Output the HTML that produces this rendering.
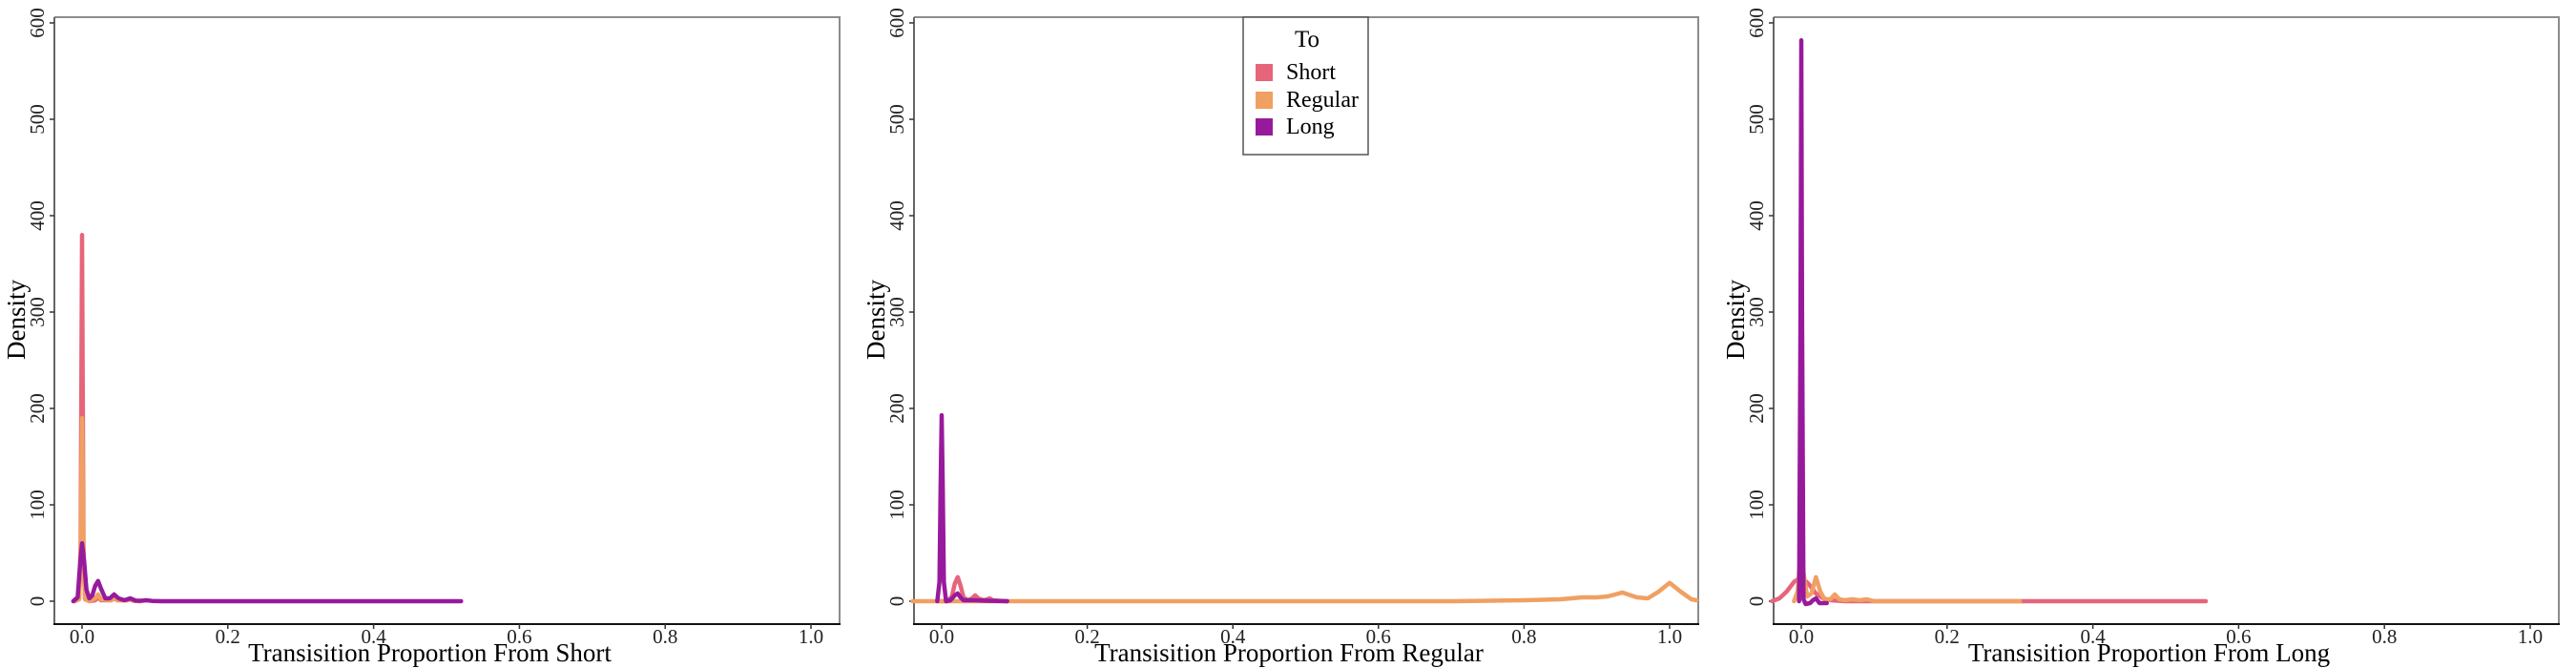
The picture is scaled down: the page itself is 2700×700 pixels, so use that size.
<!DOCTYPE html>
<html><head><meta charset="utf-8"><style>
html,body{margin:0;padding:0;background:#fff;}
svg{display:block;font-family:"Liberation Serif","Times New Roman",serif;}
</style></head><body>
<svg id="chart" width="2700" height="700" viewBox="0 0 2700 700"></svg>
<script>
// ---- data ----
const panelTitles = ["Transisition Proportion From Short","Transisition Proportion From Regular","Transisition Proportion From Long"];
const seriesNames = ["Short","Regular","Long"];
const seriesColors = ["#E6657A","#F0A062","#981A9C"];
const xTicks = [0,0.2,0.4,0.6,0.8,1.0];
const xTickLabels = ["0.0","0.2","0.4","0.6","0.8","1.0"];
const yTicks = [0,100,200,300,400,500,600];
const yTickLabels = ["0","100","200","300","400","500","600"];

// Panel 1 (From Short)
const p1ShortX = [-0.01,-0.004,-0.002,0,0.002,0.004,0.01,0.018,0.022,0.026,0.04,0.044,0.048,0.062,0.066,0.07,0.08];
const p1ShortY = [0,2,60,380,60,2,0,1,4,1,1,3,1,1,2,0.5,0];
const p1RegX = [-0.01,-0.004,-0.002,0,0.002,0.004,0.01,0.018,0.022,0.026,0.04,0.044,0.048,0.062,0.066,0.07,0.08];
const p1RegY = [0,2,40,190,40,2,0,3,7,2,1,4,1,1,3,0.5,0];
const p1LongX = [-0.012,-0.006,-0.003,0,0.003,0.006,0.01,0.014,0.018,0.022,0.026,0.032,0.038,0.044,0.05,0.058,0.066,0.074,0.082,0.088,0.096,0.11,0.3,0.52];
const p1LongY = [0,4,35,60,40,12,3,6,16,21,13,3,3,7,3,1,3,0.5,0.5,1,0.3,0,0,0];

// Panel 2 (From Regular)
const p2ShortX = [-0.004,0.008,0.014,0.018,0.022,0.026,0.03,0.036,0.042,0.046,0.05,0.058,0.062,0.066,0.07,0.078,0.09];
const p2ShortY = [0,0,5,18,25,16,4,1,3,6,3,1,2,3,1,0.5,0];
const p2RegX = [-0.04,0.1,0.3,0.5,0.7,0.8,0.85,0.88,0.9,0.915,0.935,0.955,0.97,0.985,1.0,1.015,1.03,1.037];
const p2RegY = [0,0,0,0,0,1,2,4,4,5,9,4,3,10,19,10,2,1];
const p2LongX = [-0.006,-0.003,-0.0015,0,0.0015,0.003,0.006,0.012,0.018,0.022,0.026,0.03,0.045,0.06,0.09];
const p2LongY = [0,20,120,193,120,20,0,1,6,8,4,1,1,0.5,0];

// Panel 3 (From Long)
const p3ShortX = [-0.04,-0.03,-0.02,-0.01,0,0.01,0.02,0.03,0.04,0.06,0.2,0.4,0.555];
const p3ShortY = [0,3,10,20,25,18,8,3,1,0,0,0,0];
const p3RegX = [-0.01,-0.005,-0.002,0,0.003,0.008,0.014,0.02,0.026,0.032,0.04,0.046,0.052,0.06,0.07,0.08,0.09,0.1,0.3];
const p3RegY = [0,10,40,55,30,5,8,25,10,2,2,7,2,1,2,1,2,0,0];
const p3LongX = [-0.003,-0.001,0,0.001,0.003,0.006,0.012,0.016,0.02,0.025,0.035];
const p3LongY = [0,300,582,300,2,-3,-2,1,3,-2,-2];

const panelSeriesX = [[p1ShortX,p1RegX,p1LongX],[p2ShortX,p2RegX,p2LongX],[p3ShortX,p3RegX,p3LongX]];
const panelSeriesY = [[p1ShortY,p1RegY,p1LongY],[p2ShortY,p2RegY,p2LongY],[p3ShortY,p3RegY,p3LongY]];

// ---- layout ----
const NS = "http://www.w3.org/2000/svg";
const svg = document.getElementById('chart');
const panels = [{x0:86,x1:850},{x0:987,x1:1750},{x0:1888,x1:2652}];
const Y0 = 630, PXU = 1.01, TOP = 18, BOTTOM = 654;
function mk(tag, attrs, parent){
  const e = document.createElementNS(NS, tag);
  for (const k in attrs) e.setAttribute(k, attrs[k]);
  (parent||svg).appendChild(e);
  return e;
}
panels.forEach((p, pi) => {
  const g = mk('g', {});
  
  
  const xs = v => p.x0 + (p.x1 - p.x0) * v;
  const ys = v => Y0 - v * PXU;
  const left = p.x0 - 29, right = p.x1 + 30;
  const border = mk('path', {d:`M${left},${TOP} H${right} V${BOTTOM}`, fill:'none', stroke:'#8c8c8c', 'stroke-width':2}, g);
  
  
  const yAxis = mk('line', {x1:left, y1:TOP, x2:left, y2:BOTTOM, stroke:'#666', 'stroke-width':2}, g);
  
  
  const xAxis = mk('line', {x1:left-1, y1:BOTTOM, x2:right+1, y2:BOTTOM, stroke:'#111', 'stroke-width':2}, g);
  
  
  yTicks.forEach((t, i) => {
    const y = ys(t);
    const tk = mk('line', {x1:left-5, y1:y, x2:left, y2:y, stroke:'#333', 'stroke-width':1.5}, g);
    
    
    const tx = mk('text', {x:0, y:0, transform:`translate(${left-11},${y}) rotate(-90)`, 'text-anchor':'middle', 'font-size':21, fill:'#222'}, g);
    tx.textContent = yTickLabels[i];
    
    
  });
  xTicks.forEach((t, i) => {
    const x = xs(t);
    const tk = mk('line', {x1:x, y1:BOTTOM, x2:x, y2:BOTTOM+5, stroke:'#333', 'stroke-width':1.5}, g);
    
    
    const tx = mk('text', {x:x, y:674, 'text-anchor':'middle', 'font-size':21, fill:'#222'}, g);
    tx.textContent = xTickLabels[i];
    
    
  });
  const xt = mk('text', {x:(left+right)/2 - 18, y:693, 'text-anchor':'middle', 'font-size':27, fill:'#000'}, g);
  xt.textContent = panelTitles[pi];
  
  
  const yt = mk('text', {x:0, y:0, transform:`translate(${left-31},${335}) rotate(-90)`, 'text-anchor':'middle', 'font-size':27, fill:'#000'}, g);
  yt.textContent = 'Density';
  
  
  for (let s = 0; s < 3; s++) {
    const X = panelSeriesX[pi][s], Y = panelSeriesY[pi][s];
    let d = '';
    for (let k = 0; k < X.length; k++) d += (k ? 'L' : 'M') + xs(X[k]).toFixed(1) + ',' + ys(Y[k]).toFixed(1);
    const path = mk('path', {d:d, fill:'none', stroke:seriesColors[s], 'stroke-width':4.5, 'stroke-linejoin':'round', 'stroke-linecap':'round'}, g);
    
    
  }
});
const lg = mk('g', {});


const lbox = mk('rect', {x:1303, y:18, width:131, height:144, fill:'#fff', stroke:'#555', 'stroke-width':1.5}, lg);


const ltitle = mk('text', {x:1370, y:49, 'text-anchor':'middle', 'font-size':25, fill:'#000'}, lg);
ltitle.textContent = 'To';


const legendY = [67, 96, 124];
seriesNames.forEach((n, i) => {
  const key = mk('rect', {x:1316, y:legendY[i], width:18, height:18, fill:seriesColors[i]}, lg);
  
  
  const t = mk('text', {x:1348, y:legendY[i]+16, 'font-size':24, fill:'#000'}, lg);
  t.textContent = n;
  
  
});
</script>
</body></html>
